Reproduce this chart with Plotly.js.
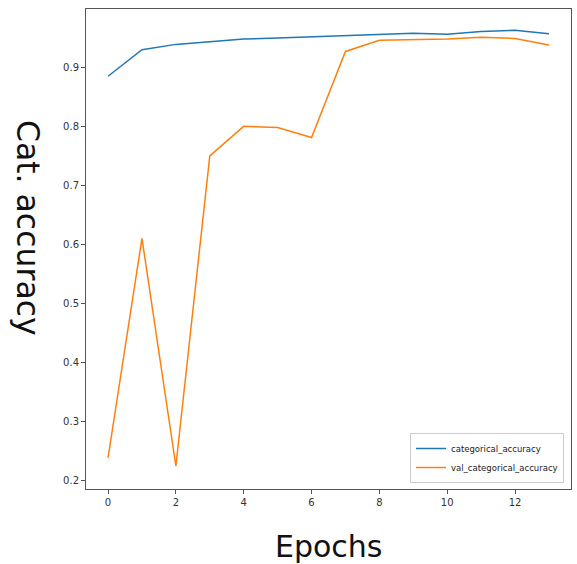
<!DOCTYPE html>
<html>
<head>
<meta charset="utf-8">
<script src="https://cdn.plot.ly/plotly-3.0.1.min.js"></script>
<style>html,body{margin:0;padding:0;background:#fff;}#chart{width:577px;height:564px;}</style>
</head>
<body>
<div id="chart"></div>
<script>
const epochs = [0,1,2,3,4,5,6,7,8,9,10,11,12,13];
const categoricalAccuracy = [0.885,0.930,0.939,0.944,0.948,0.950,0.952,0.954,0.956,0.958,0.956,0.961,0.963,0.957];
const valCategoricalAccuracy = [0.238,0.610,0.224,0.750,0.800,0.798,0.781,0.927,0.946,0.947,0.948,0.951,0.949,0.938];
const seriesNames = ["categorical_accuracy","val_categorical_accuracy"];
const xTitle = "Epochs";
const yTitle = "Cat. accuracy";

const font = "DejaVu Sans, sans-serif";
const traces = [
  {x: epochs, y: categoricalAccuracy, name: seriesNames[0], type: "scatter", mode: "lines",
   line: {color: "#1f77b4", width: 1.5}},
  {x: epochs, y: valCategoricalAccuracy, name: seriesNames[1], type: "scatter", mode: "lines",
   line: {color: "#ff7f0e", width: 1.5}}
];
const axisCommon = {
  showgrid: false, zeroline: false, showline: true, mirror: true,
  linecolor: "#555", linewidth: 1, ticks: "outside", ticklen: 4, tickcolor: "#555",
  tickfont: {family: font, size: 10, color: "#333"}
};
const layout = {
  width: 577, height: 564,
  margin: {l: 86, r: 6, t: 9, b: 75},
  paper_bgcolor: "#fff", plot_bgcolor: "#fff",
  showlegend: true,
  legend: {x: 0.9856, y: 0.0125, xanchor: "right", yanchor: "bottom",
    bgcolor: "rgba(255,255,255,0.9)", bordercolor: "#ccc", borderwidth: 1,
    font: {family: font, size: 8.5, color: "#222"}, tracegroupgap: 0, itemwidth: 30},
  xaxis: Object.assign({}, axisCommon, {range: [-0.65, 13.65], dtick: 2, tick0: 0}),
  yaxis: Object.assign({}, axisCommon, {range: [0.185, 0.999], dtick: 0.1, tick0: 0.2, tickformat: ".1f"}),
  annotations: [
    {text: xTitle, xref: "paper", yref: "paper", x: 0.5, y: -0.119, xanchor: "center", yanchor: "middle",
     showarrow: false, font: {family: font, size: 30, color: "#111"}},
    {text: yTitle, xref: "paper", yref: "paper", x: -0.1206, y: 0.545, xanchor: "center", yanchor: "middle",
     textangle: 90, showarrow: false, font: {family: font, size: 31.5, color: "#111"}}
  ]
};
Plotly.newPlot("chart", traces, layout, {displayModeBar: false, staticPlot: true});
</script>
</body>
</html>
